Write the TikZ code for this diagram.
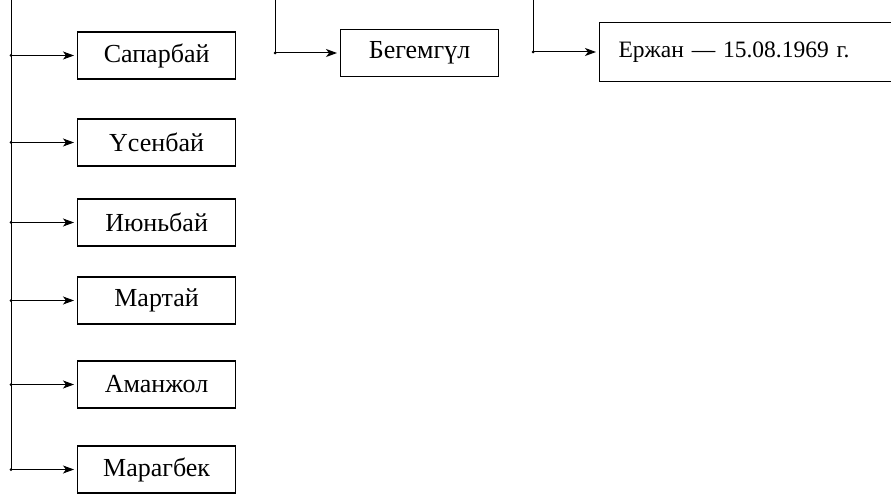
\documentclass[tikz,border=0pt]{standalone}
\usepackage{fontspec}
\setmainfont{Liberation Serif}
\usetikzlibrary{arrows.meta}
\begin{document}
\begin{tikzpicture}[x=1pt,y=-1pt,
 box/.style={draw, line width=1.2pt, rectangle, minimum height=47pt, minimum width=158pt, anchor=west, inner sep=0pt, font=\fontsize{26}{28}\selectfont},
 conn/.style={line width=1.0pt, -{Stealth[length=11pt,width=8pt,inset=3pt]}, shorten >=3pt},
 trunk/.style={line width=1.0pt},
 jdot/.style={fill, circle, inner sep=0pt, minimum size=3pt}]
\useasboundingbox (0,0) rectangle (891,494);
\clip (0,0) rectangle (891,494);
\fill[white] (0,0) rectangle (891,494);
% left column
\node[box] (s1) at (77,55.5) {Сапарбай};
\node[box] (s2) at (77,142.5) {Үсенбай};
\node[box] (s3) at (77,222.5) {Июньбай};
\node[box] (s4) at (77,300.5) {Мартай};
\node[box] (s5) at (77,384.5) {Аманжол};
\node[box] (s6) at (77,469.5) {Марагбек};
\coordinate (t0) at (11,-2);
\coordinate (t6) at (11,469.5);
\draw[trunk] (t0) -- (t6);
\foreach \i in {1,...,6}{
  \coordinate (j\i) at (s\i.west -| t0);
  \draw[conn] (j\i) -- (s\i.west);
  \node[jdot] at (j\i) {};
}
% middle
\node[box] (b) at (340,53) {Бегемгүл};
\coordinate (bt) at (275,-2);
\coordinate (bj) at (b.west -| bt);
\draw[trunk] (bt) -- (bj);
\draw[conn] (bj) -- (b.west);
\node[jdot] at (bj) {};
% right
\node[box, minimum height=59pt, text width=290pt, align=left, inner xsep=19pt, font=\fontsize{23.5}{26}\selectfont] (e) at (599,52) {Ержан — 15.08.1969 г.};
\coordinate (et) at (533,-2);
\coordinate (ej) at (e.west -| et);
\draw[trunk] (et) -- (ej);
\draw[conn] (ej) -- (e.west);
\node[jdot] at (ej) {};
\end{tikzpicture}
\end{document}
